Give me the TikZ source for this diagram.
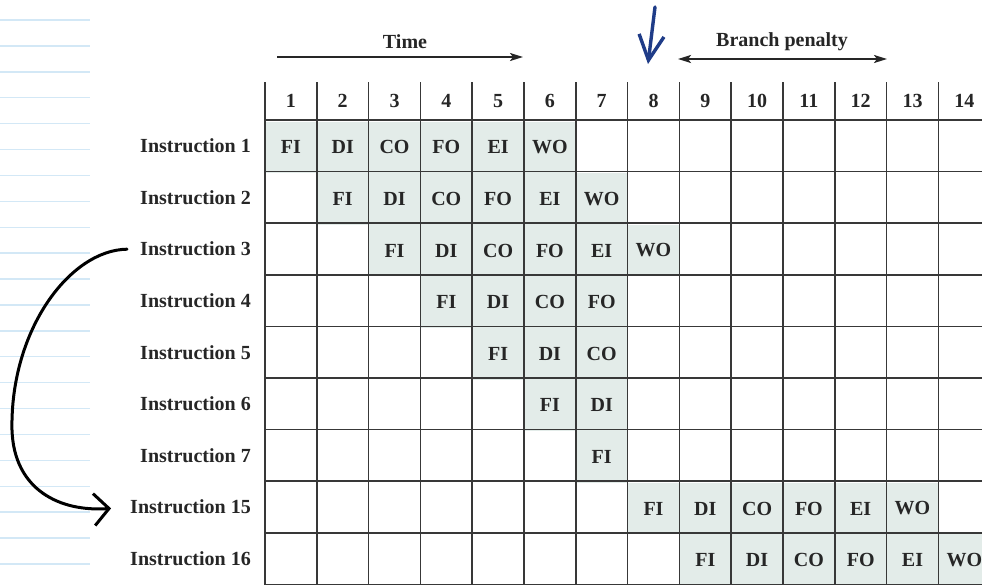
\documentclass[tikz,border=0pt]{standalone}
\usepackage{fontspec}
\setmainfont{Liberation Serif}
\usetikzlibrary{arrows.meta}
\definecolor{cellfill}{HTML}{E3ECE9}
\definecolor{gridc}{HTML}{383838}
\definecolor{notebl}{HTML}{D3E8F6}
\definecolor{penblue}{HTML}{1F3C88}
\definecolor{txt}{HTML}{262626}
\begin{document}
\begin{tikzpicture}[x=1pt,y=-1pt,
  font=\fontsize{20}{22}\selectfont\bfseries,
  every node/.style={text=txt},
  cell/.style={minimum width=51.8pt,minimum height=51.6pt,inner sep=0pt,fill=cellfill,yshift=-1.5pt},
  hdr/.style={inner sep=0pt},
  lbl/.style={anchor=east,inner sep=0pt},
  gridline/.style={draw=gridc,line width=1.6pt},
  noteline/.style={draw=notebl,line width=1.4pt},
  timearrow/.style={draw=txt,line width=2pt,-{Stealth[length=13pt,width=8pt,inset=3pt]}},
  penarrow/.style={draw=txt,line width=2pt,{Stealth[length=13pt,width=8pt,inset=3pt]}-{Stealth[length=13pt,width=8pt,inset=3pt]}},
  handarrow/.style={draw=black,line width=3pt,line cap=round,line join=round,-{Straight Barb[length=15pt,width=32pt,line width=3pt]}},
  bluearrow/.style={draw=penblue,line width=3.4pt,line cap=round,line join=round,-{Straight Barb[length=25pt,width=25pt,line width=3.4pt]}}
]
\useasboundingbox (0,0) rectangle (982,584);
\clip (0,0) rectangle (982,584);
\fill[white] (0,0) rectangle (982,584);

% notebook ruling
\foreach \k in {0,...,21}
  \draw[noteline] (0,{20+25.9*\k}) -- (90,{20+25.9*\k});

% shaded cells with stage labels
\foreach \r/\st/\lst in {1/1/{FI,DI,CO,FO,EI,WO},2/2/{FI,DI,CO,FO,EI,WO},3/3/{FI,DI,CO,FO,EI,WO},4/4/{FI,DI,CO,FO},5/5/{FI,DI,CO},6/6/{FI,DI},7/7/{FI},8/8/{FI,DI,CO,FO,EI,WO},9/9/{FI,DI,CO,FO,EI,WO}}{
  \foreach \s [count=\k from 0] in \lst {
    \pgfmathtruncatemacro\col{\st+\k}
    \node[cell] (c\r-\col) at ({265+51.8*(\col-0.5)},{120+51.6*(\r-0.5)}) {\s};
  }
}

% grid
\foreach \i in {0,...,14}
  \draw[gridline] ({265+51.8*\i},82) -- ({265+51.8*\i},585);
\foreach \r in {0,...,9}
  \draw[gridline] (265,{120+51.6*\r}) -- (990,{120+51.6*\r});

% header numbers
\foreach \i in {1,...,14}
  \node[hdr] (h\i) at ({265+51.8*(\i-0.5)},101) {\i};

% row labels
\foreach \r/\t in {1/1,2/2,3/3,4/4,5/5,6/6,7/7,8/15,9/16}
  \node[lbl] (l\t) at (251,{120+51.6*(\r-0.5)}) {Instruction \t};

% time arrow
\node[hdr] (time) at (405,42) {Time};
\coordinate (ta) at (277,57);
\coordinate (tb) at (523,57);
\draw[timearrow] (ta) -- (tb);

% branch penalty
\node[hdr] (bp) at (782,42) {Branch penalty};
\coordinate (pa) at (678,59);
\coordinate (pb) at (887,59);
\draw[penarrow] (pa) -- (pb);

% blue hand-drawn arrow
\coordinate (ba) at (655,7);
\coordinate (bb) at (648,64);
\draw[bluearrow] (ba) -- (bb);

% hand-drawn curved arrow from Instruction 3 to Instruction 15
\draw[handarrow, shorten <=13pt, shorten >=19pt] (l3.west) .. controls (70,250) and (10,330) .. (12,430) .. controls (14,490) and (60,512) .. (l15.west);
\end{tikzpicture}
\end{document}
